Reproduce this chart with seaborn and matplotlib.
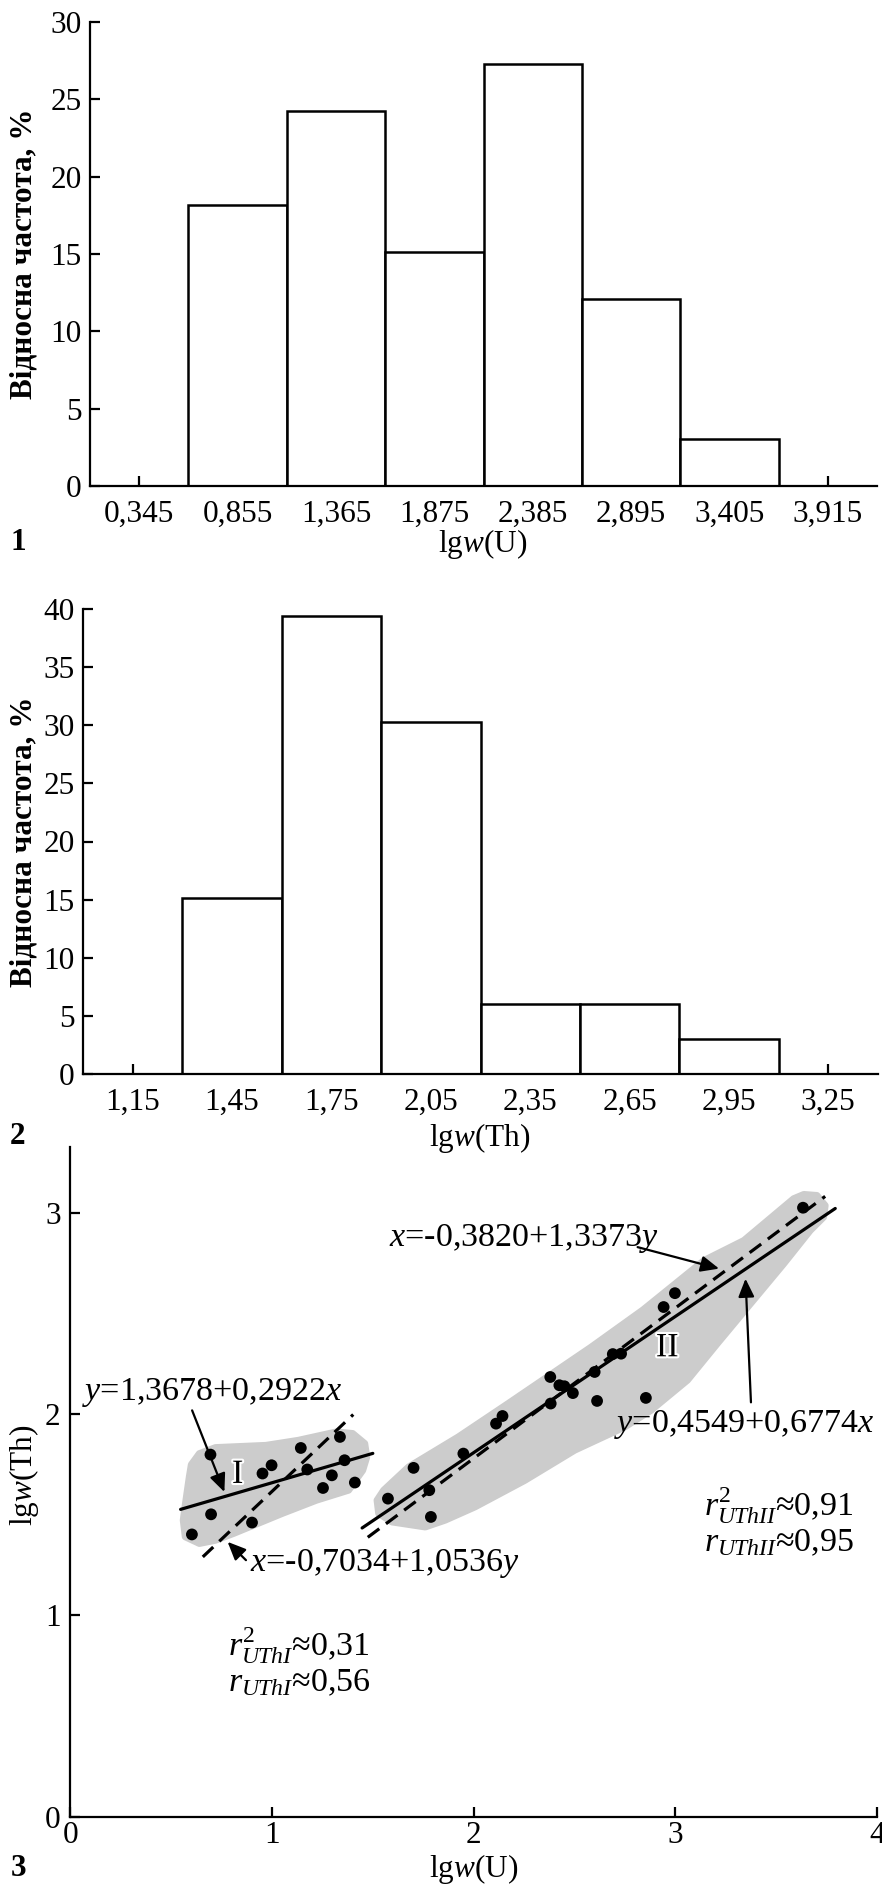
import numpy as np
import matplotlib
matplotlib.use("Agg")
import matplotlib.pyplot as plt
import matplotlib.patheffects as pe
import seaborn as sns

# histogram 1: lg w(U)
u_bins = ["0,345", "0,855", "1,365", "1,875", "2,385", "2,895", "3,405", "3,915"]
u_freq = [0, 18.18, 24.24, 15.15, 27.27, 12.12, 3.03, 0]

# histogram 2: lg w(Th)
th_bins = ["1,15", "1,45", "1,75", "2,05", "2,35", "2,65", "2,95", "3,25"]
th_freq = [0, 15.15, 39.39, 30.30, 6.06, 6.06, 3.03, 0]

# scatter, group I
g1_u = [0.603, 0.695, 0.698, 0.901, 0.953, 0.998, 1.143, 1.175, 1.253, 1.297, 1.337, 1.360, 1.411]
g1_th = [1.403, 1.800, 1.503, 1.462, 1.706, 1.747, 1.833, 1.726, 1.634, 1.697, 1.888, 1.772, 1.661]

# scatter, group II
g2_u = [1.575, 1.702, 1.780, 1.788, 1.949, 2.111, 2.143, 2.380, 2.382, 2.425, 2.450,
        2.492, 2.600, 2.612, 2.690, 2.731, 2.854, 2.942, 2.998, 3.633]
g2_th = [1.581, 1.734, 1.623, 1.490, 1.805, 1.954, 1.992, 2.186, 2.054, 2.145, 2.140,
         2.106, 2.211, 2.067, 2.300, 2.302, 2.082, 2.534, 2.603, 3.028]

# regression coefficients: y = a + b*x  and  x = c + d*y, with x ranges drawn
g1_yx = (1.3678, 0.2922, 0.547, 1.50)
g1_xy = (-0.7034, 1.0536, 0.657, 1.403)
g2_yx = (0.4549, 0.6774, 1.447, 3.793)
g2_xy = (-0.3820, 1.3373, 1.475, 3.743)

# gray outlines of the groups
hull1_u = [0.60, 0.64, 0.72, 0.97, 1.13, 1.32, 1.40, 1.46, 1.47, 1.45, 1.38, 1.22, 1.05,
           0.81, 0.72, 0.64, 0.57, 0.56, 0.57, 0.59]
hull1_th = [1.75, 1.805, 1.835, 1.846, 1.871, 1.913, 1.905, 1.855, 1.788, 1.722, 1.623, 1.573,
            1.507, 1.408, 1.374, 1.358, 1.391, 1.474, 1.55, 1.689]
hull2_u = [1.521, 1.554, 1.678, 1.924, 2.171, 2.583, 2.84, 3.143, 3.340, 3.587, 3.637, 3.702,
           3.743, 3.735, 3.669, 3.538, 3.373, 3.208, 3.060, 2.879, 2.748, 2.501, 2.254, 2.007,
           1.859, 1.760, 1.595, 1.529]
hull2_th = [1.573, 1.623, 1.739, 1.888, 2.054, 2.335, 2.52, 2.766, 2.865, 3.073, 3.094, 3.089,
            3.039, 2.981, 2.915, 2.750, 2.551, 2.352, 2.170, 2.020, 1.937, 1.822, 1.672, 1.540,
            1.474, 1.440, 1.465, 1.507]

sns.set_style("ticks")
plt.rcParams["font.family"] = ["Liberation Serif", "DejaVu Serif"]
plt.rcParams["mathtext.fontset"] = "custom"
plt.rcParams["mathtext.rm"] = "Liberation Serif"
plt.rcParams["mathtext.it"] = "Liberation Serif:italic"
plt.rcParams["axes.linewidth"] = 1.6
plt.rcParams["text.color"] = "black"

FS = 22.5     # tick labels, axis titles
FA = 24.5     # equations on the scatter
W, H = 882, 1887

fig = plt.figure(figsize=(W / 100, H / 100), dpi=100)


def box(left, top, right, bottom):
    return [left / W, 1 - bottom / H, (right - left) / W, (bottom - top) / H]


def style(ax, xpad, ypad):
    sns.despine(ax=ax)
    ax.tick_params(direction="in", length=7, width=1.6, labelsize=FS, colors="black")
    ax.tick_params(axis="x", pad=xpad)
    ax.tick_params(axis="y", pad=ypad)
    for s in ax.spines.values():
        s.set_color("black")
    ax.set_xlabel("")
    ax.set_ylabel("")


# histogram 1
ax1 = fig.add_axes(box(90, 22, 877, 486))
sns.barplot(x=u_bins, y=u_freq, ax=ax1, color="white", edgecolor="black",
            linewidth=1.8, width=1, saturation=1, errorbar=None)
ax1.set_xlim(-0.5, 7.5)
ax1.set_ylim(0, 30)
ax1.set_yticks(range(0, 31, 5))
style(ax1, 10, 6)

# histogram 2
ax2 = fig.add_axes(box(83, 609, 878, 1074))
sns.barplot(x=th_bins, y=th_freq, ax=ax2, color="white", edgecolor="black",
            linewidth=1.8, width=1, saturation=1, errorbar=None)
ax2.set_xlim(-0.5, 7.5)
ax2.set_ylim(0, 40)
ax2.set_yticks(range(0, 41, 5))
style(ax2, 10, 6)

# scatter
ax3 = fig.add_axes(box(70.3, 1147, 877, 1816.5))
ax3.fill(hull1_u, hull1_th, color="#cccccc", lw=5, joinstyle="round", zorder=0)
ax3.fill(hull2_u, hull2_th, color="#cccccc", lw=5, joinstyle="round", zorder=0)

for a, b, x0, x1 in (g1_yx, g2_yx):
    xs = np.array([x0, x1])
    sns.lineplot(x=xs, y=a + b * xs, ax=ax3, color="black", lw=2.3, zorder=3)
for c, d, x0, x1 in (g1_xy, g2_xy):
    xs = np.array([x0, x1])
    sns.lineplot(x=xs, y=(xs - c) / d, ax=ax3, color="black", lw=2.3,
                 linestyle=(0, (4.5, 2.6)), zorder=3)

sns.scatterplot(x=g1_u + g2_u, y=g1_th + g2_th, ax=ax3, color="black", s=72,
                edgecolor="none", zorder=4)
ax3.set_xlim(0, 4)
ax3.set_ylim(0, 3.33)
ax3.set_xticks(range(0, 5))
ax3.set_yticks(range(0, 4))
style(ax3, 3, 7)

halo = [pe.withStroke(linewidth=3, foreground="white")]
ax3.text(0.83, 1.70, "I", fontsize=FA, ha="center", va="center", path_effects=halo, zorder=5)
ax3.text(2.96, 2.33, "II", fontsize=FA, ha="center", va="center", path_effects=halo, zorder=5)

ax3.text(0.06, 2.11, "$y$=1,3678+0,2922$x$", fontsize=FA, ha="left", va="center")
ax3.text(0.89, 1.26, "$x$=-0,7034+1,0536$y$", fontsize=FA, ha="left", va="center")
ax3.text(1.58, 2.875, "$x$=-0,3820+1,3373$y$", fontsize=FA, ha="left", va="center")
ax3.text(3.985, 1.95, "$y$=0,4549+0,6774$x$", fontsize=FA, ha="right", va="center")

arrow = dict(arrowstyle="-|>,head_length=0.5,head_width=0.22", color="black", lw=1.6,
             mutation_scale=22, shrinkA=0, shrinkB=0)
ax3.annotate("", xy=(0.764, 1.614), xytext=(0.604, 2.02), arrowprops=arrow)
ax3.annotate("", xy=(0.780, 1.366), xytext=(0.871, 1.275), arrowprops=arrow)
ax3.annotate("", xy=(3.217, 2.725), xytext=(2.813, 2.832), arrowprops=arrow)
ax3.annotate("", xy=(3.348, 2.675), xytext=(3.375, 2.06), arrowprops=arrow)

ax3.text(3.14, 1.545, r"$r^{2}_{UThII}$≈0,91", fontsize=FA, ha="left", va="center")
ax3.text(3.14, 1.36, r"$r_{UThII}$≈0,95", fontsize=FA, ha="left", va="center")
ax3.text(0.78, 0.85, r"$r^{2}_{UThI}$≈0,31", fontsize=FA, ha="left", va="center")
ax3.text(0.78, 0.665, r"$r_{UThI}$≈0,56", fontsize=FA, ha="left", va="center")


# axis titles and panel numbers
def ftext(x, y, s, **kw):
    fig.text(x / W, 1 - y / H, s, fontsize=FS, ha="center", va="center", **kw)


ftext(24, 254, "Відносна частота, %", rotation=90, weight="bold")
ftext(24, 842, "Відносна частота, %", rotation=90, weight="bold")
ftext(24, 1475, "lg$w$(Th)", rotation=90)
ftext(483, 544, "lg$w$(U)")
ftext(480, 1138, "lg$w$(Th)")
ftext(474, 1869, "lg$w$(U)")
ftext(18, 542, "1", weight="bold")
ftext(18, 1137, "2", weight="bold")
ftext(19, 1869, "3", weight="bold")

fig.savefig("out.png", dpi=100)
